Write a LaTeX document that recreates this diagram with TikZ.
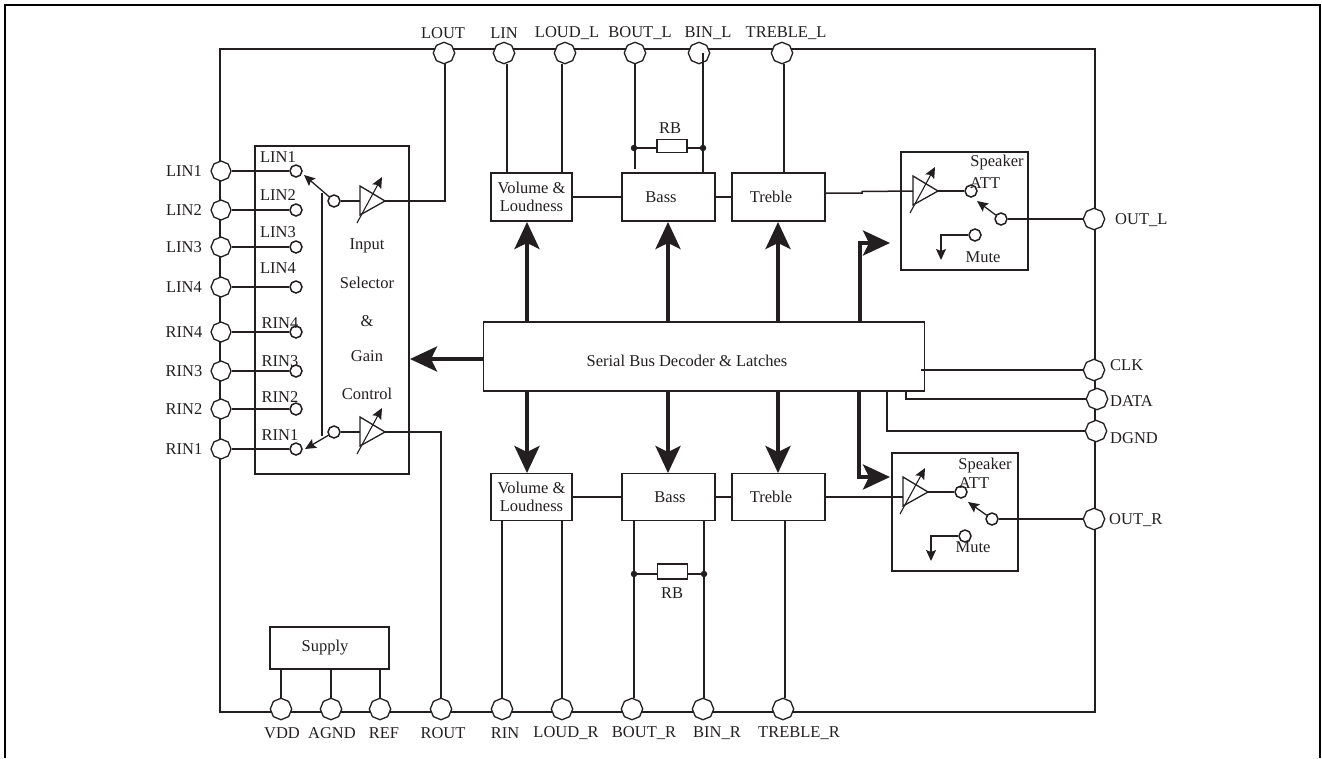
\documentclass[tikz,border=0pt]{standalone}
\usepackage{fontspec}
\setmainfont{Liberation Serif}
\usetikzlibrary{arrows.meta,calc,shapes.geometric}
\definecolor{ink}{HTML}{231F20}
\tikzset{
  wire/.style={draw=ink,line width=1.5pt},
  bus/.style={draw=ink,line width=4pt,-{Stealth[length=27pt,width=25pt,inset=6pt]}},
  smallarrow/.style={draw=ink,line width=1.3pt,-{Stealth[length=11pt,width=10pt,inset=2pt]}},
  blockbox/.style={draw=ink,line width=1.7pt,rectangle,inner sep=0pt,text=ink,font=\fontsize{16.5}{18.5}\selectfont,align=center},
  pin/.style={regular polygon,regular polygon sides=8,shape border rotate=22.5,draw=ink,line width=1.3pt,fill=white,inner sep=0pt,minimum size=21.5pt},
  sidepin/.style={pin,minimum size=20pt},
  minipin/.style={regular polygon,regular polygon sides=8,shape border rotate=22.5,draw=ink,line width=1.5pt,fill=white,inner sep=0pt,minimum size=12pt},
  txt/.style={text=ink,inner sep=0pt,font=\fontsize{16.5}{18.5}\selectfont},
  dotnode/.style={circle,fill=ink,inner sep=0pt,minimum size=6.5pt},
  resistor/.style={rectangle,draw=ink,line width=1.5pt,fill=white,inner sep=0pt,minimum width=30pt,minimum height=13pt}
}
\newcommand{\ampsym}[3]{%
  \coordinate (#1) at (#2,#3);
  \coordinate (#1in) at (#2-25,#3);
  \draw[wire,line width=1.3pt] (#2-25,#3-15) -- (#1) -- (#2-25,#3+14) -- cycle;
  \draw[smallarrow,line width=1.1pt] (#2-28,#3+22) -- (#2-3,#3-24);
}
\begin{document}
\begin{tikzpicture}[x=1pt,y=-1pt]
\useasboundingbox (0,0) rectangle (1322,758);
\fill[white] (0,0) rectangle (1322,758);
% page frame
\draw[black,line width=2pt] (5,758) -- (5,5) -- (1320,5) -- (1320,758);
% chip outline
\draw[wire] (220,49) rectangle (1095,712);

% blocks
\node[blockbox,minimum width=154pt,minimum height=328pt] (sel) at (332,310) {};
\node[blockbox,minimum width=441pt,minimum height=69pt] (dec) at (704,356.5) {};
\node[blockbox,minimum width=81pt,minimum height=48pt] (volL) at (531.5,197) {Volume \&\\Loudness};
\node[blockbox,minimum width=93pt,minimum height=48pt] (bassL) at (668.5,197) {};
\node[blockbox,minimum width=93pt,minimum height=48pt] (trebL) at (778.5,197) {};
\node[blockbox,minimum width=81pt,minimum height=47pt] (volR) at (531.5,497) {Volume \&\\Loudness};
\node[blockbox,minimum width=93pt,minimum height=47pt] (bassR) at (668.5,497) {};
\node[blockbox,minimum width=93pt,minimum height=47pt] (trebR) at (778.5,497) {};
\node[blockbox,minimum width=127pt,minimum height=118pt] (spkL) at (964.5,211) {};
\node[blockbox,minimum width=126pt,minimum height=118pt] (spkR) at (955,512) {};
\node[blockbox,minimum width=119pt,minimum height=42pt] (sup) at (329.5,648) {};

% pins top
\node[pin] (pLOUT) at (444,53) {};
\node[pin] (pLIN) at (504,53) {};
\node[pin] (pLOUDL) at (565,53) {};
\node[pin] (pBOUTL) at (635,53) {};
\node[pin] (pBINL) at (699,53) {};
\node[pin] (pTREBL) at (782,53) {};
% pins bottom
\node[pin] (pVDD) at (281,709) {};
\node[pin] (pAGND) at (331,709) {};
\node[pin] (pREF) at (380,709) {};
\node[pin] (pROUT) at (441,709) {};
\node[pin] (pRIN) at (502,709) {};
\node[pin] (pLOUDR) at (562,709) {};
\node[pin] (pBOUTR) at (632,709) {};
\node[pin] (pBINR) at (703,709) {};
\node[pin] (pTREBR) at (783,709) {};
% pins left
\foreach \n/\y in {LINa/171,LINb/210,LINc/247,LINd/287,RINd/332,RINc/371,RINb/409,RINa/449}{
  \node[sidepin] (p\n) at (221,\y) {};
  \node[minipin] (m\n) at (296,\y) {};
  \draw[wire] (p\n) -- (m\n);
}
% pins right
\node[pin] (pOUTL) at (1094,219) {};
\node[pin] (pCLK) at (1094,370) {};
\node[pin] (pDATA) at (1097,399) {};
\node[pin] (pDGND) at (1096,431) {};
\node[pin] (pOUTR) at (1094,519) {};

% selector internals
\draw[wire] (322,193) -- (322,436);
\ampsym{ampU}{385}{201}
\ampsym{ampD}{385}{432}
\node[minipin] (swU) at (334,201) {};
\node[minipin] (swD) at (334,432) {};
\coordinate (swUtip) at (304,175);
\coordinate (swDtip) at (305,449);
\draw[smallarrow] (swU) -- (swUtip);
\draw[smallarrow] (swD) -- (swDtip);
\draw[wire] (swU) -- (ampUin);
\draw[wire] (swD) -- (ampDin);
\draw[wire] (ampU) -| ([xshift=1pt]pLOUT.south);
\draw[wire] (ampD) -| (pROUT.north);

% speaker L internals
\ampsym{ampSL}{938}{191}
\node[minipin] (aL) at (971,191) {};
\node[minipin] (bL) at (1001,219) {};
\node[minipin] (muL) at (975,235) {};
\coordinate (aLtip) at (977,201);
\coordinate (muLtip) at (941,260);
\draw[wire] (ampSL) -- (aL);
\draw[smallarrow] (bL) -- (aLtip);
\draw[wire] (bL) -- (pOUTL);
\draw[smallarrow] (muL) -| (muLtip);
% speaker R internals
\ampsym{ampSR}{928}{492}
\node[minipin] (aR) at (961,492) {};
\node[minipin] (bR) at (992,519) {};
\node[minipin] (muR) at (965,536) {};
\coordinate (aRtip) at (968,502);
\coordinate (muRtip) at (931,561);
\draw[wire] (ampSR) -- (aR);
\draw[smallarrow] (bR) -- (aRtip);
\draw[wire] (bR) -- (pOUTR);
\draw[smallarrow] (muR) -| (muRtip);

% pin connectors top
\draw[wire] ([xshift=3pt]pLIN.south) -- ([xshift=3pt]pLIN.south |- volL.north);
\draw[wire] ([xshift=-3pt]pLOUDL.south) -- ([xshift=-3pt]pLOUDL.south |- volL.north);
\node[dotnode] (dLa) at (634,148) {};
\node[dotnode] (dLb) at (703,148) {};
\draw[wire] (pBOUTL.south) -- (635,169);
\draw[wire] ([xshift=4pt]pBINL.center) -- ([xshift=4pt]pBINL.center |- bassL.north);
\node[resistor] (rbL) at (672,146) {};
\draw[wire] (dLa) -- (dLa -| rbL.west);
\draw[wire] (dLb) -- (dLb -| rbL.east);
\draw[wire] ([xshift=2pt]pTREBL.south) -- ([xshift=2pt]pTREBL.south |- trebL.north);
% block chain
\draw[wire] (volL) -- (bassL);
\draw[wire] (bassL) -- (trebL);
\draw[wire] (trebL.east |- 0,193) -- (862,193) -- (862,191.5) -- (ampSLin);
\draw[wire] (volR) -- (bassR);
\draw[wire] (bassR) -- (trebR);
\draw[wire] (trebR) -- (trebR -| ampSRin);
% pin connectors bottom
\draw[wire] (pRIN) -- (pRIN |- volR.south);
\draw[wire] (pLOUDR) -- (pLOUDR |- volR.south);
\draw[wire] ([xshift=2pt]pBOUTR.north) -- ([xshift=2pt]pBOUTR.north |- bassR.south);
\draw[wire] ([xshift=1pt]pBINR.north) -- ([xshift=1pt]pBINR.north |- bassR.south);
\draw[wire] ([xshift=2pt]pTREBR.north) -- ([xshift=2pt]pTREBR.north |- trebR.south);
\node[dotnode] (dRa) at (634,574) {};
\node[dotnode] (dRb) at (704,574) {};
\node[resistor,minimum height=15pt] (rbR) at (672.5,571.5) {};
\draw[wire] (dRa) -- (dRa -| rbR.west);
\draw[wire] (dRb) -- (dRb -| rbR.east);
% supply
\draw[wire] (pVDD) -- (pVDD |- sup.south);
\draw[wire] (pAGND) -- (pAGND |- sup.south);
\draw[wire] (pREF) -- (pREF |- sup.south);

% control lines
\draw[wire] (pCLK) -- (921,370);
\draw[wire] (pDATA) -| (906,391);
\draw[wire] (pDGND) -| (887,391);

% bus arrows
\draw[bus] (527,322) -- (527,222);
\draw[bus] (668,322) -- (668,222);
\draw[bus] (778,322) -- (778,222);
\draw[bus] (860,322) |- (890,243);
\draw[bus] (483,359) -- (410,359);
\draw[bus] (527,391) -- (527,473);
\draw[bus] (668,391) -- (668,473);
\draw[bus] (778,391) -- (778,473);
\draw[bus] (859,391) |- (890,477);

% text
\node[txt] (tdec) at (687,361) {Serial Bus Decoder \& Latches};
\node[txt] at (661,197) {Bass};
\node[txt] at (771,197) {Treble};
\node[txt] at (670,497) {Bass};
\node[txt] at (771,497) {Treble};
\node[txt] at (325,648) {Supply};
\node[txt] (t1) at (367,246) {Input};
\node[txt] (t2) at (367,283) {Selector};
\node[txt] (t3) at (367,321) {\&};
\node[txt] (t4) at (367,356) {Gain};
\node[txt] (t5) at (367,394) {Control};
\node[txt] at (997,163) {Speaker};
\node[txt] at (985,183) {ATT};
\node[txt] at (983,257) {Mute};
\node[txt] at (985,466) {Speaker};
\node[txt] at (974,483) {ATT};
\node[txt] at (973,547) {Mute};
\node[txt] at (670,128) {RB};
\node[txt] at (672,593) {RB};
% top labels
\node[txt] at (443,33) {LOUT};
\node[txt] at (504,33) {LIN};
\node[txt] at (567,33) {LOUD\_L};
\node[txt] at (640,33) {BOUT\_L};
\node[txt] at (708,33) {BIN\_L};
\node[txt] at (786,33) {TREBLE\_L};
% bottom labels
\node[txt] at (282,733) {VDD};
\node[txt] at (332,733) {AGND};
\node[txt] at (384,733) {REF};
\node[txt] at (443,733) {ROUT};
\node[txt] at (505,733) {RIN};
\node[txt] at (566,733) {LOUD\_R};
\node[txt] at (644,733) {BOUT\_R};
\node[txt] at (717,733) {BIN\_R};
\node[txt] at (799,733) {TREBLE\_R};
% left labels
\foreach \t/\y in {LIN1/171,LIN2/210,LIN3/247,LIN4/287,RIN4/332,RIN3/371,RIN2/409,RIN1/449}{
  \node[txt] at (184,\y) {\t};
}
\foreach \t/\y in {LIN1/157,LIN2/195,LIN3/232,LIN4/268}{
  \node[txt] at (278,\y) {\t};
}
\foreach \t/\y in {RIN4/323,RIN3/361,RIN2/397,RIN1/435}{
  \node[txt] at (280,\y) {\t};
}
% right labels
\node[txt,anchor=west] at (1115,220) {OUT\_L};
\node[txt,anchor=west] at (1110,365) {CLK};
\node[txt,anchor=west] at (1110,401) {DATA};
\node[txt,anchor=west] at (1110,438) {DGND};
\node[txt,anchor=west] at (1109,520) {OUT\_R};
\end{tikzpicture}
\end{document}
